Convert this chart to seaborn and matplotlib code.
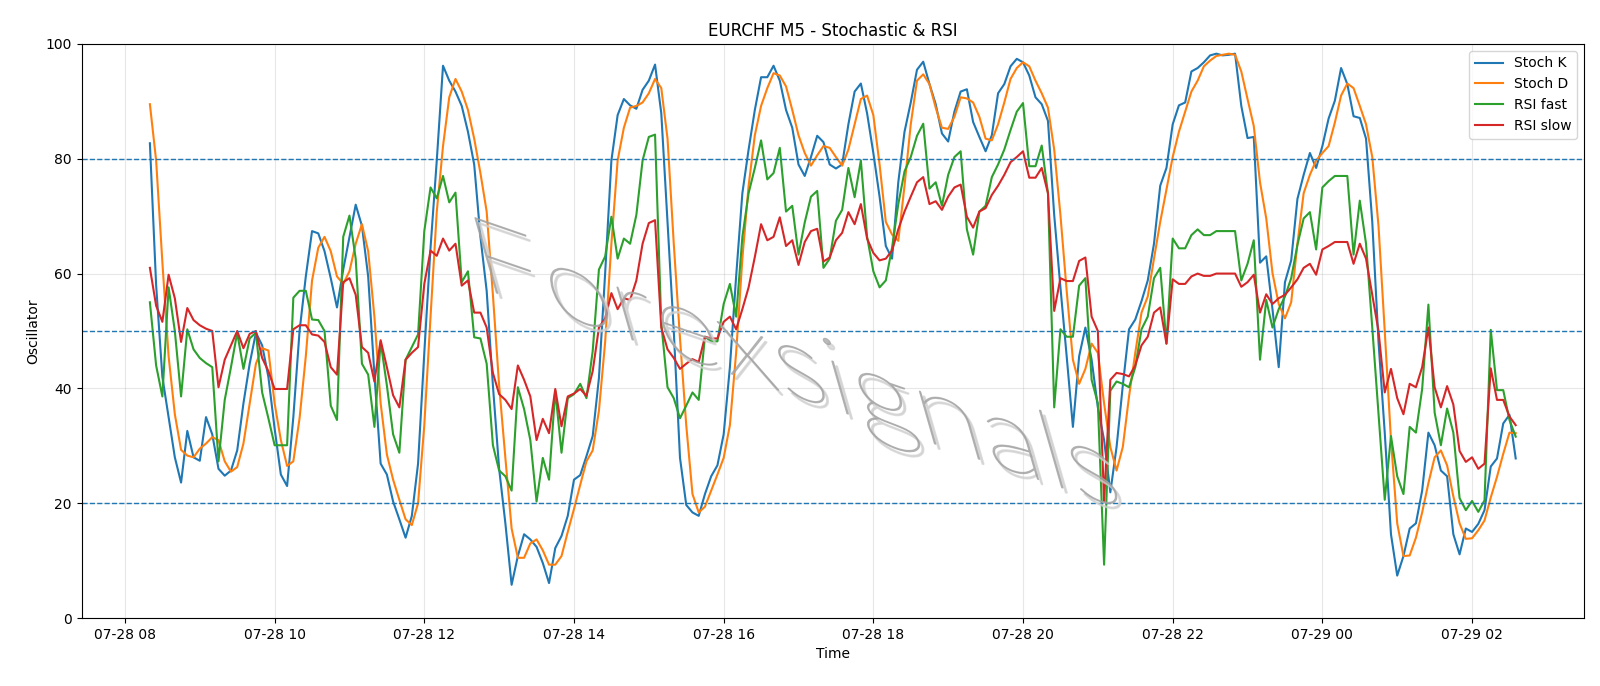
import numpy as np
import pandas as pd
import matplotlib
matplotlib.use("Agg")
import matplotlib.pyplot as plt
import matplotlib.dates as mdates
import seaborn as sns
from matplotlib.textpath import TextPath
from matplotlib.patches import PathPatch
from matplotlib.font_manager import FontProperties
from matplotlib.transforms import Affine2D

# 5 minute bars, 07-28 08:20 -> 07-29 02:35
start = "2025-07-28 08:20"

stoch_k = [
    82.7, 58, 42, 35, 28, 23.6, 32.6, 28, 27.4, 35,
    32, 26, 24.8, 25.7, 29.2, 37.4, 44.3, 49.7, 47.5, 42,
    33, 25, 23, 35, 50, 59.5, 67.4, 67, 63.9, 59.2,
    54.1, 60.7, 66.4, 72, 68.3, 59.5, 42.4, 26.9, 25, 20.3,
    17.2, 14, 17.8, 26.9, 46.2, 64.5, 79.7, 96.2, 93.6, 91.7,
    89.2, 84.7, 79, 66.4, 57, 40.5, 26, 16.5, 5.8, 10.8,
    14.6, 13.7, 12.4, 9.6, 6.1, 12.2, 14.3, 17.8, 24.1, 24.9,
    28.2, 31.7, 41.8, 60.1, 79.7, 87.6, 90.4, 89.3, 88.7, 92,
    93.6, 96.4, 87.9, 69, 50, 27.9, 19.7, 18.4, 17.8, 21.6,
    24.7, 26.6, 32, 43.7, 59.5, 74, 81.6, 88.5, 94.2, 94.2,
    96.2, 93.6, 88.5, 85.4, 79, 77, 80.3, 84, 82.9, 79,
    78.3, 79, 86, 91.7, 93.1, 87.9, 81, 73.4, 64.8, 62.6,
    75.9, 84.7, 89.8, 95.5, 96.9, 93, 89.5, 84.4, 83, 88.2,
    91.7, 92.1, 86.4, 83.8, 81.3, 84.1, 91.4, 93, 96.1, 97.4,
    96.8, 94.5, 90.7, 89.5, 86.6, 70.2, 57.6, 45.6, 33.3, 45.6,
    50.6, 45, 36.7, 31, 21.9, 29.8, 40.5, 50.3, 52, 55.2,
    58.8, 65.2, 75.3, 78.4, 86, 89.3, 89.8, 95.2, 95.8, 96.8,
    98, 98.3, 98, 98.1, 98.3, 89.2, 83.6, 83.8, 61.9, 63,
    53.8, 43.7, 58.5, 62.3, 73, 77.2, 81, 78.4, 82.2, 87,
    90.1, 95.8, 93, 87.4, 87.1, 83.5, 69, 48.1, 32.3, 14.6,
    7.4, 10.8, 15.6, 16.5, 22.2, 32.3, 30.1, 25.7, 24.7, 14.6,
    11.1, 15.6, 15, 16.4, 18.8, 26.4, 27.8, 33.9, 35.4, 27.8,
]

stoch_d = [
    89.5, 79.7, 62, 45.6, 35.5, 29.3, 28.3, 28, 29.5, 30.4,
    31.5, 31, 27.3, 25.5, 26.3, 30.4, 37.4, 44.3, 47, 46.6,
    37.4, 31, 26.5, 27.3, 34.8, 45.6, 58.8, 64.5, 66.4, 63.9,
    59.5, 58.2, 60.4, 65.2, 68.6, 63.9, 52.5, 37.4, 28.5, 24.1,
    20.6, 17.2, 16.2, 20, 33.6, 52.5, 70.8, 82.2, 90.7, 93.9,
    91.7, 88.5, 83.5, 77.5, 70.8, 56.3, 40.5, 27.9, 15.6, 10.5,
    10.5, 13, 13.7, 11.8, 9.3, 9.3, 10.8, 15, 19, 23.2,
    27.3, 29.2, 36.1, 48.1, 65.2, 79.7, 85.4, 88.9, 89.2, 89.8,
    91.4, 93.9, 92.3, 83.5, 65.2, 48.7, 33.6, 21.6, 18.4, 19.4,
    22.2, 25, 27.9, 33.6, 46.2, 62.6, 75.3, 84.1, 89.2, 92.3,
    94.9, 94.5, 92.6, 88.5, 84.1, 81, 78.8, 80.6, 82.2, 81.9,
    80.3, 78.8, 81.6, 86, 90.4, 91, 87.6, 79, 69, 66.8,
    65.7, 75.3, 86, 93.6, 94.7, 93, 88.9, 85.4, 85.2, 87.3,
    90.7, 90.5, 89.8, 87.3, 83.5, 83.2, 86, 89.8, 93.9, 95.8,
    96.8, 96.1, 93.6, 91.4, 88.9, 81.6, 70.2, 57, 45, 40.8,
    43.4, 47.8, 46.2, 37.4, 29.8, 25.7, 29.8, 38.6, 46.2, 53.2,
    56, 62.6, 69, 74.6, 80.3, 84.7, 88.2, 91.7, 93.6, 96.1,
    97.1, 97.9, 98.1, 98.3, 98.1, 95.2, 90.4, 85.7, 75.9, 69.6,
    60.1, 54.7, 52.2, 55, 65.2, 74, 77.2, 79.7, 81, 82.2,
    86.3, 91, 93.1, 92.3, 89.2, 86, 80.3, 68.3, 50, 31,
    16.5, 10.8, 10.9, 14, 18.4, 23.5, 28, 29.2, 26.6, 21.2,
    16.5, 13.8, 13.9, 15.3, 17, 21, 24.6, 28.6, 32.3, 32.2,
]

rsi_fast = [
    55, 44, 38.6, 57.6, 50, 38.6, 50.3, 46.8, 45.3, 44.4,
    43.7, 27.3, 38, 43.7, 49.7, 43.4, 48.7, 49.7, 39.3, 34.8,
    30.1, 30.1, 30.1, 55.8, 57, 57, 52, 51.9, 50, 37,
    34.5, 66.4, 70.1, 62.6, 44.3, 42.4, 33.3, 48.1, 40.5, 32,
    28.8, 45, 47.2, 49.4, 67.4, 75, 73.1, 77, 72.4, 74.1,
    58.5, 60.4, 48.9, 48.7, 44.3, 30.1, 25.7, 24.7, 22.2, 40.2,
    36.4, 31, 20.3, 27.9, 24.1, 39.6, 28.8, 38.3, 39, 40.8,
    38.3, 46.5, 60.7, 63, 69.9, 62.6, 66.1, 65.2, 70.2, 79.7,
    83.8, 84.2, 51.3, 40.2, 38.3, 34.8, 37, 39.3, 38, 49,
    48.2, 48.2, 54.7, 58.2, 52.5, 66.4, 74, 78.4, 83.2, 76.4,
    77.5, 81.9, 70.8, 71.8, 63.3, 68.9, 73.4, 74.4, 61, 62.6,
    69.2, 71.1, 78.4, 73.3, 79.7, 66.4, 60.4, 57.6, 58.8, 64.5,
    72.1, 77.8, 80.3, 84, 86.1, 74.8, 75.9, 71.8, 77.2, 80.3,
    81.3, 67.7, 63.3, 70.8, 71.8, 76.8, 79, 81.6, 85, 88.2,
    89.7, 78.7, 78.7, 82.3, 74, 36.7, 50.3, 49, 49, 57.9,
    59.2, 41.5, 37.4, 9.3, 39.6, 41.2, 40.8, 40.2, 43.7, 50.3,
    52.5, 59.2, 61, 47.8, 66.1, 64.4, 64.4, 66.7, 67.7, 66.7,
    66.7, 67.4, 67.4, 67.4, 67.4, 58.8, 61.7, 65.8, 45, 55.4,
    50.6, 53.8, 56, 59.2, 65, 69.6, 70.7, 64.2, 75, 76.1,
    77, 77, 77, 63.3, 72.7, 65.2, 50.6, 35.5, 20.6, 31.7,
    24.7, 21.6, 33.3, 32.3, 39.9, 54.6, 35.8, 30.1, 36.5, 32.3,
    20.9, 18.8, 20.4, 18.5, 20.5, 50.2, 39.7, 39.7, 34.5, 31.6,
]

rsi_slow = [
    61, 54.4, 51.6, 59.8, 55.7, 48.1, 54, 51.9, 51, 50.4,
    50, 40.2, 45, 47.5, 50, 47, 49.5, 50, 45.3, 43,
    39.9, 39.9, 39.9, 50.3, 51, 51, 49.4, 49.2, 48.1, 43.7,
    42.4, 58.5, 59.2, 56.3, 47.2, 46.2, 41.2, 48.4, 43.7, 38.8,
    36.7, 45, 46.2, 47.2, 58.2, 64, 63.1, 66.1, 64, 65.2,
    57.9, 58.8, 53.2, 53.2, 50.6, 42.7, 39, 38, 36.4, 44,
    41.5, 38.6, 31, 34.7, 32.2, 39.9, 33.4, 38.6, 39.1, 39.9,
    38.7, 43, 50.6, 52.2, 56.6, 53.8, 55.7, 55.4, 58.8, 65.2,
    68.8, 69.3, 50.6, 46.8, 45.3, 43.4, 44.3, 45.1, 44.6, 49,
    48.7, 48.7, 51.6, 52.5, 50.3, 53.8, 57.6, 62.9, 68.6, 65.8,
    66.4, 69.8, 64.8, 65.8, 61.5, 65.5, 67.4, 67.8, 62.1, 62.8,
    65.8, 67.1, 70.7, 68.6, 72.1, 66.1, 63.6, 62.3, 62.6, 64,
    67.7, 70.8, 73.4, 75.9, 76.8, 72.1, 72.6, 71.1, 73.4, 75,
    75.5, 69.9, 68, 70.8, 71.4, 73.7, 75.3, 77.2, 79.4, 80.3,
    81.3, 76.7, 76.7, 78.4, 74, 53.5, 59.2, 58.7, 58.7, 62.2,
    62.8, 52.5, 50, 20.3, 41.5, 42.7, 42.5, 42.1, 44, 47.5,
    49, 53.2, 54.1, 47.8, 59, 58.2, 58.2, 59.5, 60, 59.6,
    59.6, 60, 60, 60, 60, 57.7, 58.5, 59.8, 53.2, 56.4,
    54.7, 55.7, 56.3, 57.6, 59, 61, 61.7, 59.8, 64.2, 64.8,
    65.5, 65.5, 65.5, 61.7, 65.2, 62.6, 56.3, 50, 39.3, 43.4,
    38.3, 35.5, 40.8, 40.2, 43.7, 50.6, 40.2, 36.7, 40.4, 37.2,
    29.1, 27.2, 28, 26, 26.9, 43.5, 38, 38, 35.1, 33.6,
]

levels = [20, 50, 80]

times = pd.date_range(start, periods=len(stoch_k), freq="5min")

df = pd.DataFrame({
    "Time": times,
    "Stoch K": stoch_k,
    "Stoch D": stoch_d,
    "RSI fast": rsi_fast,
    "RSI slow": rsi_slow,
}).melt(id_vars="Time", var_name="series", value_name="value")

fig, ax = plt.subplots(figsize=(16, 6.86), dpi=100)
fig.subplots_adjust(left=0.051, right=0.990, top=0.936, bottom=0.099)

sns.lineplot(data=df, x="Time", y="value", hue="series",
             palette=["tab:blue", "tab:orange", "tab:green", "tab:red"],
             linewidth=1.5, ax=ax)

for lvl in levels:
    ax.axhline(lvl, linestyle="--", linewidth=1, color="tab:blue")

ax.set_ylim(0, 100)
ax.xaxis.set_major_locator(mdates.HourLocator(byhour=range(0, 24, 2)))
ax.xaxis.set_major_formatter(mdates.DateFormatter("%m-%d %H"))
ax.grid(True, alpha=0.3)
ax.set_title("EURCHF M5 - Stochastic & RSI")
ax.set_xlabel("Time")
ax.set_ylabel("Oscillator")
sns.move_legend(ax, "upper right", title=None)

# watermark, sheared text drawn in pixel space
tp = TextPath((0, 0), "Forexsignals", size=1,
              prop=FontProperties(family=["Lato", "DejaVu Sans"], weight="light"))
ext = tp.get_extents()
sx = 660 / ext.width   # stretch along the baseline
sy = 112               # glyph height
base = np.deg2rad(-19)
lean = np.deg2rad(16)
mat = np.array([[sx * np.cos(base), -sy * np.sin(lean), 482],
                [sx * np.sin(base), sy * np.cos(lean), 398],
                [0, 0, 1]])
shadow = PathPatch(tp, transform=Affine2D(mat).translate(4, -5),
                   facecolor="#cfcfcf", edgecolor="#cfcfcf", linewidth=1.2,
                   alpha=0.7, zorder=5)
mark = PathPatch(tp, transform=Affine2D(mat),
                 facecolor="#a3a3a3", edgecolor="#a3a3a3", linewidth=0.8,
                 alpha=0.75, zorder=6)
fig.add_artist(shadow)
fig.add_artist(mark)

fig.savefig("out.png", dpi=100)
